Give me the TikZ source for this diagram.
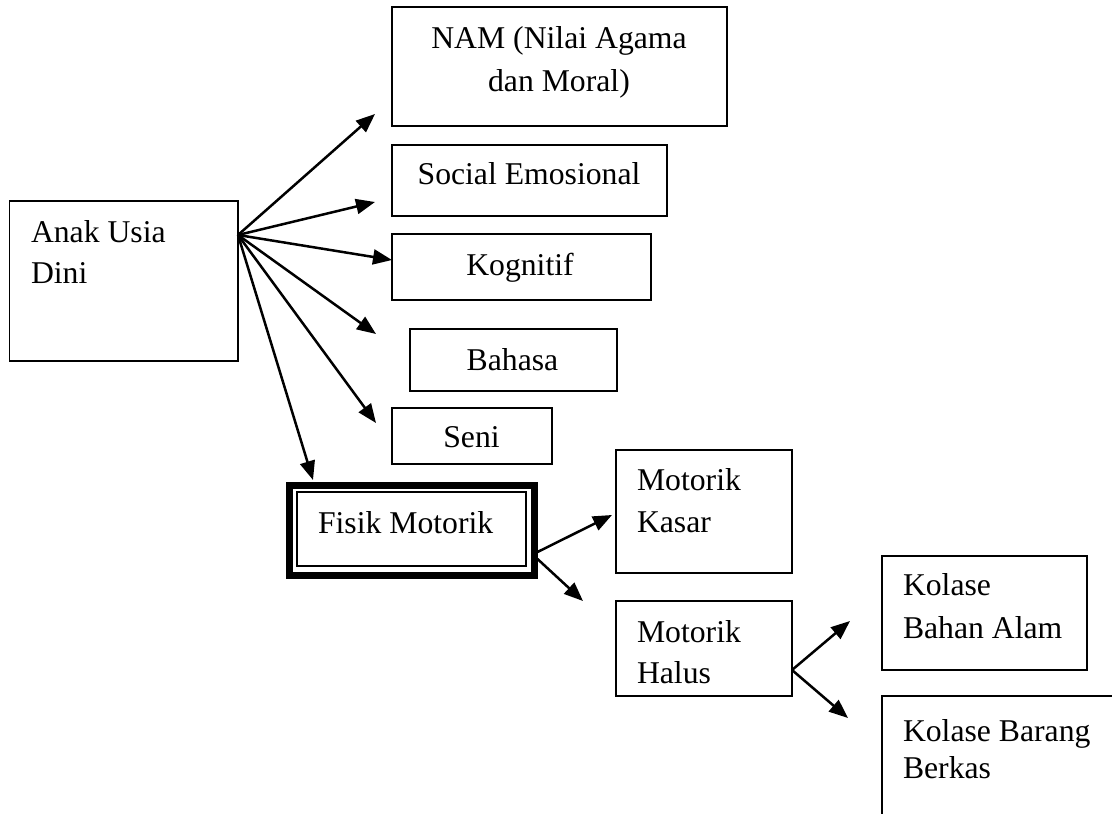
\documentclass[tikz,border=0pt]{standalone}
\usepackage{fontspec}
\setmainfont{Liberation Serif}
\usetikzlibrary{arrows.meta,calc}
\begin{document}
\begin{tikzpicture}[x=1pt,y=-1pt,
  box/.style={draw=black,line width=1.6pt,rectangle,inner sep=0pt,outer sep=0pt},
  lbl/.style={inner sep=0pt,outer sep=0pt,font=\fontsize{31.7}{41}\selectfont},
  arr/.style={line width=2.5pt,-{Triangle[length=19pt,width=15pt]}}]
\useasboundingbox (0,0) rectangle (1112,814);
\clip (0,0) rectangle (1112,814);
% boxes
\node[box,minimum width=228.5pt,minimum height=160pt] (anak) at (123.75,281) {};
\node[box,minimum width=335pt,minimum height=119pt] (nam) at (559.5,66.5) {};
\node[box,minimum width=275pt,minimum height=71pt] (soc) at (529.5,180.5) {};
\node[box,minimum width=259pt,minimum height=66pt] (kog) at (521.5,267) {};
\node[box,minimum width=207pt,minimum height=62pt] (bah) at (513.5,360) {};
\node[box,minimum width=160pt,minimum height=56pt] (seni) at (472,436) {};
\node[box,line width=7pt,minimum width=244.5pt,minimum height=90pt] (fisik) at (411.75,530.5) {};
\draw[line width=1.6pt] ($(fisik.north west)+(7.5,6.5)$) rectangle ($(fisik.south east)+(-8,-9.5)$);
\node[box,minimum width=176pt,minimum height=123pt] (kasar) at (704,511.5) {};
\node[box,minimum width=176pt,minimum height=95pt] (halus) at (704,648.5) {};
\node[box,minimum width=205pt,minimum height=114pt] (bahan) at (984.5,613) {};
\node[box,minimum width=258pt,minimum height=144pt] (barang) at (1011,768) {};
% texts (base anchor = baseline of last line)
\node[lbl,anchor=base west,align=left] (anak-t) at (31,283) {Anak Usia\\Dini};
\node[lbl,anchor=base,align=center,font=\fontsize{31.7}{43}\selectfont] (nam-t) at (559,91) {NAM (Nilai Agama\\dan Moral)};
\node[lbl,anchor=base] (soc-t) at (529,184) {Social Emosional};
\node[lbl,anchor=base] (kog-t) at (520,275) {Kognitif};
\node[lbl,anchor=base] (bah-t) at (512.5,370) {Bahasa};
\node[lbl,anchor=base] (seni-t) at (471.5,447) {Seni};
\node[lbl,anchor=base west] (fisik-t) at (318,533) {Fisik Motorik};
\node[lbl,anchor=base west,align=left,font=\fontsize{31.7}{42}\selectfont] (kasar-t) at (637,532) {Motorik\\Kasar};
\node[lbl,anchor=base west,align=left] (halus-t) at (637,683) {Motorik\\Halus};
\node[lbl,anchor=base west,align=left,font=\fontsize{31.7}{43}\selectfont] (bahan-t) at (903,638) {Kolase\\Bahan Alam};
\node[lbl,anchor=base west,align=left,font=\fontsize{31.7}{37}\selectfont] (barang-t) at (903,778) {Kolase Barang\\Berkas};
% connector points
\coordinate (hub) at (anak.east |- 0,235);
\coordinate (tNam) at (375,114);
\coordinate (tSoc) at (375,202);
\coordinate (tKog) at (kog.west |- 0,260);
\coordinate (tBah) at (376,334);
\coordinate (tSeni) at (376,423);
\coordinate (tFis) at (313,480);
\coordinate (fHubA) at (fisik.east |- 0,552);
\coordinate (fHubB) at (fisik.east |- 0,559);
\coordinate (tKasar) at (612,515);
\coordinate (tHalus) at (583,601);
\coordinate (hHub) at (halus.east |- 0,670);
\coordinate (tBahan) at (850,621);
\coordinate (tBarang) at (848,718);
% arrows
\draw[arr] (hub) -- (tNam);
\draw[arr] (hub) -- (tSoc);
\draw[arr] (hub) -- (tKog);
\draw[arr] (hub) -- (tBah);
\draw[arr] (hub) -- (tSeni);
\draw[arr] (hub) -- (tFis);
\draw[arr] ([xshift=3.5pt]fHubA) -- (tKasar);
\draw[arr] ([xshift=3.5pt]fHubB) -- (tHalus);
\draw[arr] (hHub) -- (tBahan);
\draw[arr] (hHub) -- (tBarang);
\end{tikzpicture}
\end{document}
